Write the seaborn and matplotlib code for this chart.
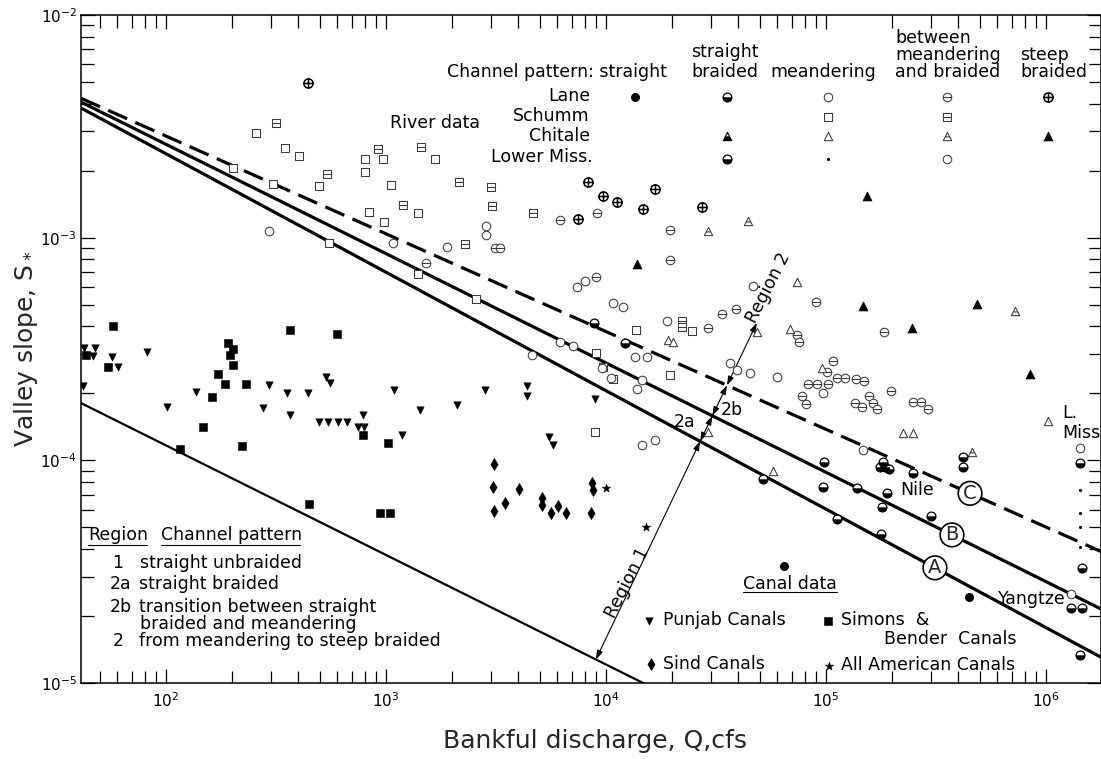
import numpy as np
import matplotlib
matplotlib.use("Agg")
import matplotlib.pyplot as plt
from matplotlib.path import Path
from matplotlib.ticker import LogLocator, LogFormatterMathtext, NullFormatter
import seaborn as sns

# ---------------- canal data (filled symbols) ----------------
PUNJAB_Q = [42, 42.4, 47.5, 46.6, 57, 60.5, 82, 101, 137, 276, 294, 355, 366, 442,
            495, 545, 605, 665, 533, 556, 786, 746, 794, 1087, 1428, 1182, 2103,
            2820, 4375, 4375, 8913, 5510, 5740]
PUNJAB_S = [2.16e-4, 3.2e-4, 3.2e-4, 2.94e-4, 2.91e-4, 2.62e-4, 3.07e-4, 1.74e-4,
            2.03e-4, 1.72e-4, 2.18e-4, 2.01e-4, 1.60e-4, 2.01e-4, 1.49e-4, 1.49e-4,
            1.49e-4, 1.49e-4, 2.37e-4, 2.23e-4, 1.60e-4, 1.41e-4, 1.41e-4, 2.07e-4,
            1.68e-4, 1.30e-4, 1.77e-4, 2.07e-4, 2.16e-4, 1.95e-4, 1.89e-4, 1.27e-4,
            1.17e-4]

SIMONS_Q = [43.3, 57.4, 54.5, 116, 147, 162, 172, 185, 191, 202, 195, 202, 221, 231,
            366, 447, 599, 786, 939, 1043, 1021]
SIMONS_S = [2.97e-4, 4.02e-4, 2.62e-4, 1.12e-4, 1.41e-4, 1.93e-4, 2.44e-4, 2.2e-4,
            3.37e-4, 3.16e-4, 2.97e-4, 2.68e-4, 1.16e-4, 2.2e-4, 3.86e-4, 6.37e-5,
            3.7e-4, 1.30e-4, 5.81e-5, 5.81e-5, 1.20e-4]

SIND_Q = [3097, 3062, 3475, 3097, 4027, 5117, 5117, 5623, 6053, 6580, 8630, 8730, 8550]
SIND_S = [9.64e-5, 7.6e-5, 6.44e-5, 5.93e-5, 7.44e-5, 6.78e-5, 6.31e-5, 5.81e-5,
          6.24e-5, 5.81e-5, 7.93e-5, 7.37e-5, 5.81e-5]

ALL_AMERICAN_Q = [10000, 15200]
ALL_AMERICAN_S = [7.52e-5, 5.03e-5]

# ---------------- river data ----------------
LANE_STRAIGHT_Q = [64400, 447000]
LANE_STRAIGHT_S = [3.36e-5, 2.44e-5]

LANE_STRAIGHT_BRAIDED_Q = [97900, 176000, 185000, 193000, 182000, 248000, 51800,
                           96900, 138000, 189000, 180000, 112000, 300000, 178000,
                           420000, 420000, 8810, 12200]
LANE_STRAIGHT_BRAIDED_S = [9.84e-5, 9.33e-5, 9.33e-5, 9.14e-5, 9.84e-5, 8.77e-5,
                           8.24e-5, 7.6e-5, 7.52e-5, 7.14e-5, 6.18e-5, 5.46e-5,
                           5.62e-5, 4.68e-5, 1.04e-4, 9.33e-5, 4.14e-4, 3.37e-4]

LANE_MEANDERING_Q = [294, 1080, 1890, 2850, 2850, 8040, 7380, 10800, 11900, 18900,
                     6180, 7080, 4610, 13500, 15300, 14600, 13800, 9590, 10500,
                     36600, 39400, 45200, 59800, 14600, 16700, 46600, 96900, 147000]
LANE_MEANDERING_S = [1.07e-3, 9.46e-4, 9.08e-4, 1.13e-3, 1.03e-3, 6.4e-4, 6.01e-4,
                     5.09e-4, 4.89e-4, 4.23e-4, 3.4e-4, 3.27e-4, 2.97e-4, 2.91e-4,
                     2.91e-4, 2.3e-4, 2.09e-4, 2.6e-4, 2.34e-4, 2.74e-4, 2.55e-4,
                     2.47e-4, 2.37e-4, 1.17e-4, 1.24e-4, 6.07e-4, 2.01e-4, 1.11e-4]

LANE_BETWEEN_Q = [9100, 6180, 19500, 19500, 9010, 29100, 33700, 39000, 90100, 184000,
                  73800, 75400, 108000, 101000, 112000, 122000, 137000, 149000, 82800,
                  91000, 102000, 77800, 81100, 197000, 136000, 146000, 157000, 164000,
                  171000, 248000, 270000, 291000, 3130, 3300, 1520]
LANE_BETWEEN_S = [1.29e-3, 1.20e-3, 1.08e-3, 7.94e-4, 6.67e-4, 3.94e-4, 4.54e-4,
                  4.78e-4, 5.14e-4, 3.78e-4, 3.66e-4, 3.4e-4, 2.79e-4, 2.5e-4, 2.34e-4,
                  2.34e-4, 2.32e-4, 2.28e-4, 2.2e-4, 2.2e-4, 2.2e-4, 1.95e-4, 1.79e-4,
                  2.05e-4, 1.81e-4, 1.74e-4, 1.95e-4, 1.81e-4, 1.70e-4, 1.83e-4,
                  1.83e-4, 1.70e-4, 9.0e-4, 9.0e-4, 7.69e-4]

LANE_STEEP_Q = [442, 8280, 9690, 11200, 14700, 16700, 27300, 7460]
LANE_STEEP_S = [4.95e-3, 1.78e-3, 1.54e-3, 1.45e-3, 1.35e-3, 1.66e-3, 1.37e-3, 1.21e-3]

SCHUMM_MEANDERING_Q = [256, 347, 402, 202, 306, 496, 551, 803, 803, 968, 1670, 1050,
                       837, 979, 1400, 1400, 2560, 13700, 9010, 9690, 10800, 19500,
                       8910, 24600]
SCHUMM_MEANDERING_S = [2.95e-3, 2.53e-3, 2.33e-3, 2.06e-3, 1.74e-3, 1.71e-3, 9.46e-4,
                       2.25e-3, 1.97e-3, 2.25e-3, 2.25e-3, 1.73e-3, 1.30e-3, 1.17e-3,
                       1.29e-3, 6.87e-4, 5.31e-4, 3.86e-4, 3.03e-4, 2.62e-4, 2.32e-4,
                       2.42e-4, 1.34e-4, 3.81e-4]

SCHUMM_BETWEEN_Q = [316, 539, 920, 1440, 1190, 2290, 2150, 3000, 3030, 4660, 22100, 22100]
SCHUMM_BETWEEN_S = [3.27e-3, 1.93e-3, 2.5e-3, 2.55e-3, 1.40e-3, 9.37e-4, 1.78e-3,
                    1.69e-3, 1.39e-3, 1.29e-3, 4.23e-4, 3.97e-4]

CHITALE_MEANDERING_Q = [73800, 68500, 95900, 224000, 248000, 57400, 48500, 29100,
                        19100, 20200, 1.02e6]
CHITALE_MEANDERING_S = [6.33e-4, 3.89e-4, 2.6e-4, 1.33e-4, 1.33e-4, 8.95e-5, 3.78e-4,
                        1.34e-4, 3.48e-4, 3.4e-4, 1.50e-4]

CHITALE_BETWEEN_Q = [29100, 44200, 723000, 462000]
CHITALE_BETWEEN_S = [1.07e-3, 1.19e-3, 4.69e-4, 1.09e-4]

CHITALE_STEEP_Q = [153000, 13800, 147000, 486000, 246000, 845000]
CHITALE_STEEP_S = [1.54e-3, 7.62e-4, 4.93e-4, 5.04e-4, 3.94e-4, 2.44e-4]

LMISS_STRAIGHT_BRAIDED_Q = [1.46e6, 1.43e6, 1.46e6, 1.43e6, 1.30e6]
LMISS_STRAIGHT_BRAIDED_S = [3.29e-5, 9.73e-5, 2.17e-5, 1.34e-5, 2.17e-5]

LMISS_MEANDERING_Q = [1.43e6, 1.43e6, 1.43e6, 1.43e6]
LMISS_MEANDERING_S = [7.36e-5, 5.81e-5, 5.02e-5, 4.08e-5]

LMISS_BETWEEN_Q = [1.43e6, 1.30e6]
LMISS_BETWEEN_S = [1.14e-4, 2.51e-5]

# ---------------- regime boundaries  S = k * Q**m ----------------
LINE_NAMES = ["1", "A", "B", "C"]
LINE_K = [1.125e-3, 0.0276, 0.0252, 0.0216]
LINE_M = [-0.492, -0.532, -0.491, -0.439]
CIRCLE_LABEL_Q = {"A": 3.13e5, "B": 3.74e5, "C": 4.52e5}

# dimension line marking the regions
GUIDE_Q = [8810, 48500]
GUIDE_S = [1.22e-5, 4.14e-4]

Q_LIM = (41.1, 1.78e6)
S_LIM = (1e-5, 1e-2)

# ---------------- marker glyphs ----------------
MOVE, LINE, CLOSE = Path.MOVETO, Path.LINETO, Path.CLOSEPOLY


def closed(verts):
    return Path(verts, [MOVE] + [LINE] * (len(verts) - 2) + [CLOSE])


CIRCLE = Path.unit_circle()
SQUARE = closed([[-1, -1], [1, -1], [1, 1], [-1, 1], [-1, -1]])
TRIANGLE = closed([[0, 1], [-1, -1], [1, -1], [0, 1]])
BAR = Path([[-1, 0], [1, 0]], [MOVE, LINE])
SHORT_BAR = Path([[-0.5, -0.1], [0.5, -0.1]], [MOVE, LINE])
CROSS = Path([[-1, 0], [1, 0], [0, -1], [0, 1]], [MOVE, LINE, MOVE, LINE])
LOWER_DISC = Path.wedge(180, 360)
LOWER_TRIANGLE = closed([[-1, -1], [1, -1], [0.5, 0], [-0.5, 0], [-1, -1]])

EDGE = "#3a3a3a"
GLYPHS = {
    "filled_circle": [(CIRCLE, "black", "black", 0.6)],
    "half_circle": [(CIRCLE, "white", "black", 0.9), (LOWER_DISC, "black", "black", 0.3)],
    "open_circle": [(CIRCLE, "white", EDGE, 0.75)],
    "circle_bar": [(Path.make_compound_path(CIRCLE, BAR), "white", EDGE, 0.75)],
    "circle_plus": [(Path.make_compound_path(CIRCLE, CROSS), "white", "black", 1.1)],
    "open_square": [(SQUARE, "white", EDGE, 0.75)],
    "square_bar": [(Path.make_compound_path(SQUARE, BAR), "white", EDGE, 0.75)],
    "open_triangle": [(TRIANGLE, "white", EDGE, 0.75)],
    "triangle_bar": [(Path.make_compound_path(TRIANGLE, SHORT_BAR), "white", EDGE, 0.75)],
    "filled_triangle": [(TRIANGLE, "black", "black", 0.6)],
    "half_triangle": [(TRIANGLE, "white", "black", 0.8), (LOWER_TRIANGLE, "black", "black", 0.3)],
    "dot": [(CIRCLE, "black", "black", 0.0)],
    "down_triangle": [("v", "black", "black", 0.4)],
    "square": [("s", "black", "black", 0.4)],
    "diamond": [("d", "black", "black", 0.4)],
    "star": [("*", "black", "black", 0.4)],
}
SIZES = {"filled_circle": 34, "half_circle": 40, "open_circle": 38, "circle_bar": 38,
         "circle_plus": 44, "open_square": 32, "square_bar": 32, "open_triangle": 36,
         "triangle_bar": 36, "filled_triangle": 40, "half_triangle": 36, "dot": 5,
         "down_triangle": 28, "square": 36, "diamond": 38, "star": 40}

SERIES = [
    (PUNJAB_Q, PUNJAB_S, "down_triangle"),
    (SIMONS_Q, SIMONS_S, "square"),
    (SIND_Q, SIND_S, "diamond"),
    (ALL_AMERICAN_Q, ALL_AMERICAN_S, "star"),
    (SCHUMM_MEANDERING_Q, SCHUMM_MEANDERING_S, "open_square"),
    (SCHUMM_BETWEEN_Q, SCHUMM_BETWEEN_S, "square_bar"),
    (LANE_MEANDERING_Q, LANE_MEANDERING_S, "open_circle"),
    (LANE_BETWEEN_Q, LANE_BETWEEN_S, "circle_bar"),
    (LANE_STEEP_Q, LANE_STEEP_S, "circle_plus"),
    (CHITALE_MEANDERING_Q, CHITALE_MEANDERING_S, "open_triangle"),
    (CHITALE_BETWEEN_Q, CHITALE_BETWEEN_S, "triangle_bar"),
    (CHITALE_STEEP_Q, CHITALE_STEEP_S, "filled_triangle"),
    (LANE_STRAIGHT_BRAIDED_Q, LANE_STRAIGHT_BRAIDED_S, "half_circle"),
    (LMISS_STRAIGHT_BRAIDED_Q, LMISS_STRAIGHT_BRAIDED_S, "half_circle"),
    (LMISS_MEANDERING_Q, LMISS_MEANDERING_S, "dot"),
    (LMISS_BETWEEN_Q, LMISS_BETWEEN_S, "open_circle"),
    (LANE_STRAIGHT_Q, LANE_STRAIGHT_S, "filled_circle"),
]

# ---------------- figure ----------------
sns.set_theme(style="ticks")
plt.rcParams["font.family"] = ["DejaVu Sans"]
plt.rcParams["axes.linewidth"] = 1.1

fig = plt.figure(figsize=(11.01, 7.59), dpi=100)
ax = fig.add_axes([81 / 1101, 76 / 759, 1020 / 1101, 668 / 759])
ax.set_xscale("log")
ax.set_yscale("log")
ax.set_xlim(*Q_LIM)
ax.set_ylim(*S_LIM)

# boundary lines
q_line = np.geomspace(Q_LIM[0], Q_LIM[1], 300)
line_style = {"1": dict(lw=1.6), "A": dict(lw=2.3), "B": dict(lw=2.3),
              "C": dict(lw=2.3, linestyle=(0, (6.5, 2.8)))}
for name, k, m in zip(LINE_NAMES, LINE_K, LINE_M):
    sns.lineplot(x=q_line, y=k * q_line ** m, ax=ax, color="black", zorder=3,
                 **line_style[name])


def draw(ax, q, s, kind):
    for marker, fc, ec, lw in GLYPHS[kind]:
        sns.scatterplot(x=q, y=s, ax=ax, marker=marker, s=SIZES[kind], facecolor=fc,
                        edgecolor=ec, linewidth=lw, zorder=5, legend=False)


for q, s, kind in SERIES:
    draw(ax, q, s, kind)


def key_marker(ax, x, y, kind):
    for marker, fc, ec, lw in GLYPHS[kind]:
        ax.scatter([x], [y], marker=marker, s=SIZES[kind], facecolor=fc, edgecolor=ec,
                   linewidth=lw, zorder=6, transform=ax.transAxes, clip_on=False)


# region dimension line: arrows between successive boundaries
gx, gy = np.log10(GUIDE_Q), np.log10(GUIDE_S)
dx, dy = gx[1] - gx[0], gy[1] - gy[0]
stops = []
for k, m in zip(LINE_K, LINE_M):
    t = (np.log10(k) + m * gx[0] - gy[0]) / (dy - m * dx)
    stops.append((10 ** (gx[0] + t * dx), 10 ** (gy[0] + t * dy)))
stops.append((GUIDE_Q[1], GUIDE_S[1]))
for p0, p1 in zip(stops[:-1], stops[1:]):
    ax.annotate("", xy=p1, xytext=p0, zorder=4,
                arrowprops=dict(arrowstyle="<|-|>,head_length=0.45,head_width=0.15",
                                color="black", lw=0.8, shrinkA=0, shrinkB=0))

# circled line names
for name, k, m in zip(LINE_NAMES, LINE_K, LINE_M):
    if name in CIRCLE_LABEL_Q:
        q = CIRCLE_LABEL_Q[name]
        ax.text(q, k * q ** m, name, ha="center", va="center", fontsize=14, zorder=7,
                bbox=dict(boxstyle="circle,pad=0.12", fc="white", ec="black", lw=1.2))

# axes styling
ax.xaxis.set_major_locator(LogLocator(base=10))
ax.xaxis.set_minor_locator(LogLocator(base=10, subs=np.arange(2, 10)))
ax.yaxis.set_major_locator(LogLocator(base=10))
ax.yaxis.set_minor_locator(LogLocator(base=10, subs=np.arange(2, 10)))
ax.xaxis.set_major_formatter(LogFormatterMathtext())
ax.yaxis.set_major_formatter(LogFormatterMathtext())
ax.xaxis.set_minor_formatter(NullFormatter())
ax.yaxis.set_minor_formatter(NullFormatter())
ax.tick_params(which="both", direction="in", top=True, right=True, width=0.9,
               colors="black", labelsize=11)
ax.tick_params(which="major", length=10)
ax.tick_params(which="minor", length=9)
ax.tick_params(axis="x", which="major", pad=6)
ax.tick_params(axis="y", which="major", pad=3)
for sp in ax.spines.values():
    sp.set_color("black")
ax.set_xlabel("")
ax.set_ylabel("")

fig.text(0.024, 0.54, r"Valley slope, $\mathregular{S_*}$", rotation=90,
         ha="center", va="center", fontsize=18)
fig.text(0.54, 0.024, "Bankful discharge, Q,cfs", ha="center", va="center", fontsize=18)

FS = 12.5
T = dict(transform=ax.transAxes, fontsize=FS, color="black", va="center")

# channel-pattern key (river data)
ax.text(0.359, 0.915, "Channel pattern: straight", ha="left", **T)
ax.text(0.6314, 0.9446, "straight", ha="center", **T)
ax.text(0.6314, 0.915, "braided", ha="center", **T)
ax.text(0.7275, 0.915, "meandering", ha="center", **T)
ax.text(0.798, 0.9656, "between", ha="left", **T)
ax.text(0.798, 0.9401, "meandering", ha="left", **T)
ax.text(0.798, 0.915, "and braided", ha="left", **T)
ax.text(0.9206, 0.9401, "steep", ha="left", **T)
ax.text(0.9206, 0.915, "braided", ha="left", **T)
ax.text(0.499, 0.8787, "Lane", ha="right", **T)
ax.text(0.499, 0.8488, "Schumm", ha="right", **T)
ax.text(0.499, 0.8189, "Chitale", ha="right", **T)
ax.text(0.502, 0.7874, "Lower Miss.", ha="right", **T)
ax.text(0.3029, 0.8383, "River data", ha="left", **T)

key_rows = {"Lane": 0.8772, "Schumm": 0.8473, "Chitale": 0.8189, "Lower Miss.": 0.7844}
key_cols = {"straight": 0.5431, "straight braided": 0.6333, "meandering": 0.7324,
            "between": 0.8490, "steep braided": 0.9480}
KEY = [("Lane", "straight", "filled_circle"), ("Lane", "straight braided", "half_circle"),
       ("Lane", "meandering", "open_circle"), ("Lane", "between", "circle_bar"),
       ("Lane", "steep braided", "circle_plus"), ("Schumm", "meandering", "open_square"),
       ("Schumm", "between", "square_bar"), ("Chitale", "straight braided", "half_triangle"),
       ("Chitale", "meandering", "open_triangle"), ("Chitale", "between", "triangle_bar"),
       ("Chitale", "steep braided", "filled_triangle"),
       ("Lower Miss.", "straight braided", "half_circle"),
       ("Lower Miss.", "meandering", "dot"), ("Lower Miss.", "between", "open_circle")]
for row, col, kind in KEY:
    key_marker(ax, key_cols[col], key_rows[row], kind)

# region key
ax.text(0.0069, 0.2216, "Region", ha="left", **T)
ax.text(0.0784, 0.2216, "Channel pattern", ha="left", **T)
for x0, x1 in [(0.0069, 0.0647), (0.0784, 0.2147)]:
    ax.plot([x0, x1], [0.2066, 0.2066], color="black", lw=0.8, transform=ax.transAxes)
ax.text(0.0363, 0.1796, "1", ha="center", **T)
ax.text(0.0578, 0.1796, "straight unbraided", ha="left", **T)
ax.text(0.0284, 0.1482, "2a", ha="left", **T)
ax.text(0.0569, 0.1482, "straight braided", ha="left", **T)
ax.text(0.0284, 0.1138, "2b", ha="left", **T)
ax.text(0.0569, 0.1138, "transition between straight", ha="left", **T)
ax.text(0.0578, 0.0883, "braided and meandering", ha="left", **T)
ax.text(0.0363, 0.0629, "2", ha="center", **T)
ax.text(0.0569, 0.0629, "from meandering to steep braided", ha="left", **T)

# canal key
ax.text(0.649, 0.1482, "Canal data", ha="left", **T)
ax.plot([0.649, 0.7412], [0.1362, 0.1362], color="black", lw=0.8, transform=ax.transAxes)
key_marker(ax, 0.5569, 0.0928, "down_triangle")
ax.text(0.5706, 0.0943, "Punjab Canals", ha="left", **T)
key_marker(ax, 0.7324, 0.0928, "square")
ax.text(0.7451, 0.0943, "Simons  &", ha="left", **T)
ax.text(0.7873, 0.0659, "Bender  Canals", ha="left", **T)
key_marker(ax, 0.5588, 0.0284, "diamond")
ax.text(0.5706, 0.0284, "Sind Canals", ha="left", **T)
key_marker(ax, 0.7333, 0.0254, "star")
ax.text(0.7451, 0.0269, "All American Canals", ha="left", **T)

# river names and region tags
ax.text(0.8196, 0.2889, "Nile", ha="center", **T)
ax.text(0.9618, 0.4042, "L.", ha="left", **T)
ax.text(0.9618, 0.3743, "Miss", ha="left", **T)
ax.text(0.899, 0.1257, "Yangtze", ha="left", **T)
ax.text(0.5922, 0.3907, "2a", ha="center", **T)
ax.text(0.6382, 0.4087, "2b", ha="center", **T)
ax.text(0.5353, 0.1497, "Region 1", ha="center", rotation=63,
        rotation_mode="anchor", **T)
ax.text(0.6735, 0.5913, "Region 2", ha="center", rotation=63,
        rotation_mode="anchor", **T)

ax.set_xlim(*Q_LIM)
ax.set_ylim(*S_LIM)
fig.savefig("out.png", dpi=100)
